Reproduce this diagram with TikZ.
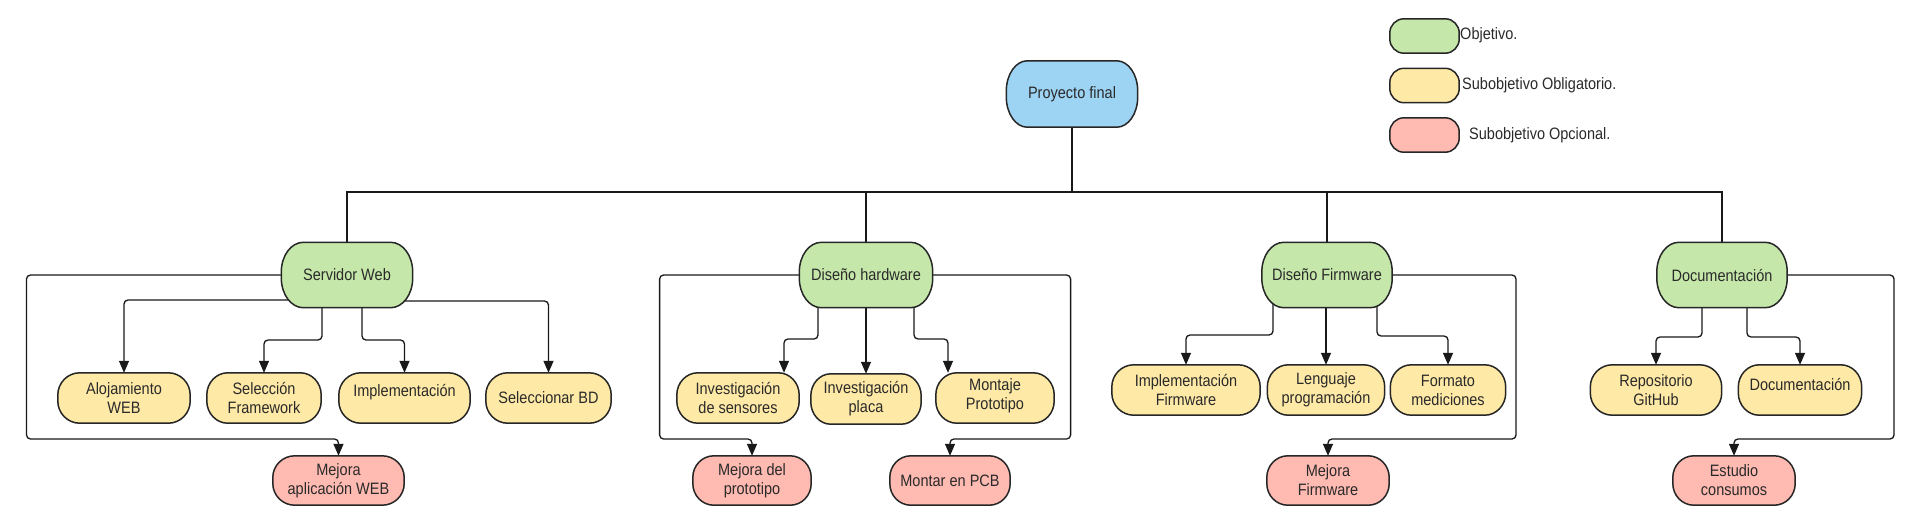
\documentclass[tikz,border=0pt]{standalone}
\usepackage{fontspec}
\setmainfont{Liberation Sans}[FakeStretch=0.88]
\usetikzlibrary{arrows.meta,calc}
\definecolor{gobj}{HTML}{C5E8AA}
\definecolor{ysub}{HTML}{FFE9A6}
\definecolor{ropt}{HTML}{FFBAB1}
\definecolor{broot}{HTML}{9DD3F3}
\definecolor{txt}{HTML}{2A2A2A}
\pgfdeclarelayer{background}
\pgfdeclarelayer{shapes}
\pgfsetlayers{background,shapes,main}
\begin{document}
\begin{tikzpicture}[x=1pt,y=-1pt,
  box/.style={align=center, inner sep=0pt, text=txt,
    font=\fontsize{16.5}{19}\selectfont},
  root/.style={box, minimum height=66pt},
  obj/.style={box, minimum height=65pt},
  sub/.style={box, minimum height=50pt},
  opt/.style={box, minimum height=49pt},
  legbox/.style={box, minimum width=69pt, minimum height=34pt},
  lbl/.style={inner sep=0pt, text=txt, font=\fontsize{16.5}{19}\selectfont, anchor=west},
  shapeline/.style={draw=black!85, line width=1.5pt},
  conn/.style={line width=1.3pt, draw=black!90, rounded corners=4pt},
  arr/.style={conn, -{Triangle[length=12pt,width=10pt]}}
]
\useasboundingbox (0,0) rectangle (1905,515);

% root and objectives
\node[root, minimum width=131pt] (pf) at (1072,94) {Proyecto final};
\node[obj, minimum width=131pt] (sw) at (347,275) {Servidor Web};
\node[obj, minimum width=133pt] (hw) at (866,275) {Diseño hardware};
\node[obj, minimum width=130pt] (fw) at (1327,275) {Diseño Firmware};
\node[obj, minimum width=130pt] (dc) at (1722,275) {Documentación};

% sub-objectives (left)
\node[sub, minimum width=132pt] (aloj) at (124,398) {Alojamiento\\WEB};
\node[sub, minimum width=114pt] (sel) at (264,398) {Selección\\Framework};
\node[sub, minimum width=131pt] (impl) at (404.5,398) {\raisebox{6pt}[\height][\depth]{Implementación}};
\node[sub, minimum width=125pt] (bd) at (548.5,398) {Seleccionar BD};
\node[sub, minimum width=122pt] (sens) at (738,398) {Investigación\\de sensores};
\node[sub, minimum width=110pt] (placa) at (866,399) {Investigación\\placa};
\node[sub, minimum width=118pt] (mont) at (995,398) {\raisebox{2pt}[\height][\depth]{Montaje}\\\raisebox{2pt}[\height][\depth]{Prototipo}};

% sub-objectives (right)
\node[sub, minimum width=148pt] (ifw) at (1186,390) {Implementación\\Firmware};
\node[sub, minimum width=117pt] (leng) at (1326,390) {Lenguaje\\programación};
\node[sub, minimum width=115pt] (form) at (1448,390) {Formato\\mediciones};
\node[sub, minimum width=131pt] (repo) at (1656,390) {Repositorio\\GitHub};
\node[sub, minimum width=123pt] (doc) at (1800,390) {\raisebox{6pt}[\height][\depth]{Documentación}};

% optional
\node[opt, minimum width=131pt] (m1) at (338.5,480.5) {Mejora\\aplicación WEB};
\node[opt, minimum width=118pt] (m2) at (752,480.5) {Mejora del\\prototipo};
\node[opt, minimum width=120pt] (m3) at (950,480.5) {Montar en PCB};
\node[opt, minimum width=122pt] (m4) at (1328,480.5) {Mejora\\Firmware};
\node[opt, minimum width=122pt] (m5) at (1734,480.5) {Estudio\\consumos};

% legend
\node[legbox] (lg1) at (1424.5,36) {};
\node[legbox] (lg2) at (1424.5,85.5) {};
\node[legbox] (lg3) at (1424.5,135) {};
\node[lbl] (lt1) at (1460,35) {Objetivo.};
\node[lbl] (lt2) at (1462,85) {Subobjetivo Obligatorio.};
\node[lbl] (lt3) at (1469,135) {Subobjetivo Opcional.};

\coordinate (bar) at (1072,192);

% node shapes with elliptical ends
\begin{pgfonlayer}{shapes}
\foreach \nd/\cl/\rr in {pf/broot/21, sw/gobj/22, hw/gobj/22, fw/gobj/22, dc/gobj/22,
  aloj/ysub/22, sel/ysub/21, impl/ysub/22, bd/ysub/22, sens/ysub/21, placa/ysub/20, mont/ysub/21,
  ifw/ysub/22, leng/ysub/21, form/ysub/21, repo/ysub/22, doc/ysub/21,
  m1/ropt/22, m2/ropt/21, m3/ropt/21, m4/ropt/21, m5/ropt/21,
  lg1/gobj/14, lg2/ysub/14, lg3/ropt/14}{
  \draw[shapeline, fill=\cl] let \p1=(\nd.north west), \p2=(\nd.south east),
      \n1={0.5*(\y1-\y2)-3pt} in
    (\x1+\rr pt,\y1) -- (\x2-\rr pt,\y1)
    arc[start angle=90,end angle=0,x radius=\rr pt,y radius=\n1]
    -- (\x2,\y2+\n1)
    arc[start angle=0,end angle=-90,x radius=\rr pt,y radius=\n1]
    -- (\x1+\rr pt,\y2)
    arc[start angle=-90,end angle=-180,x radius=\rr pt,y radius=\n1]
    -- (\x1,\y1-\n1)
    arc[start angle=180,end angle=90,x radius=\rr pt,y radius=\n1]
    -- cycle;
}
\end{pgfonlayer}

\begin{pgfonlayer}{background}
% tree bar
\draw[conn, rounded corners=0pt] (pf.south) -- (bar);
\draw[conn, rounded corners=0pt] (sw.north) |- (bar) -| (dc.north);
\draw[conn, rounded corners=0pt] (hw.north) -- (hw.north |- bar);
\draw[conn, rounded corners=0pt] (fw.north) -- (fw.north |- bar);

% Servidor Web
\draw[arr] ([yshift=-25pt]sw.center) -| (aloj.north);
\draw[arr] ([xshift=-25pt]sw.center) -- ++(0,65) -| (sel.north);
\draw[arr] ([xshift=15pt]sw.center) -- ++(0,65) -| (impl.north);
\draw[arr] ([yshift=-26pt]sw.center) -| (bd.north);
\draw[arr] (sw.center) -- ++(-320.5,0) -- ++(0,164) -| (m1.north);

% Diseno hardware
\draw[arr] ([xshift=-48pt]hw.center) -- ++(0,64) -| ([xshift=46pt]sens.north);
\draw[arr] (hw.center) -- (placa.north);
\draw[arr] ([xshift=48pt]hw.center) -- ++(0,64) -| ([xshift=-47pt]mont.north);
\draw[arr] (hw.center) -- ++(-206.4,0) -- ++(0,164) -| (m2.north);
\draw[arr] (hw.center) -- ++(204.6,0) -- ++(0,164) -| (m3.north);

% Diseno Firmware
\draw[arr] ([xshift=-54pt]fw.center) -- ++(0,60) -| (ifw.north);
\draw[arr] (leng.north |- fw.center) -- (leng.north);
\draw[arr] ([xshift=50pt]fw.center) -- ++(0,61) -| (form.north);
\draw[arr] (fw.center) -- ++(189,0) -- ++(0,164) -| (m4.north);

% Documentacion
\draw[arr] ([xshift=-20pt]dc.center) -- ++(0,62) -| (repo.north);
\draw[arr] ([xshift=25pt]dc.center) -- ++(0,62) -| (doc.north);
\draw[arr] (dc.center) -- ++(172,0) -- ++(0,164) -| (m5.north);
\end{pgfonlayer}
\end{tikzpicture}
\end{document}
